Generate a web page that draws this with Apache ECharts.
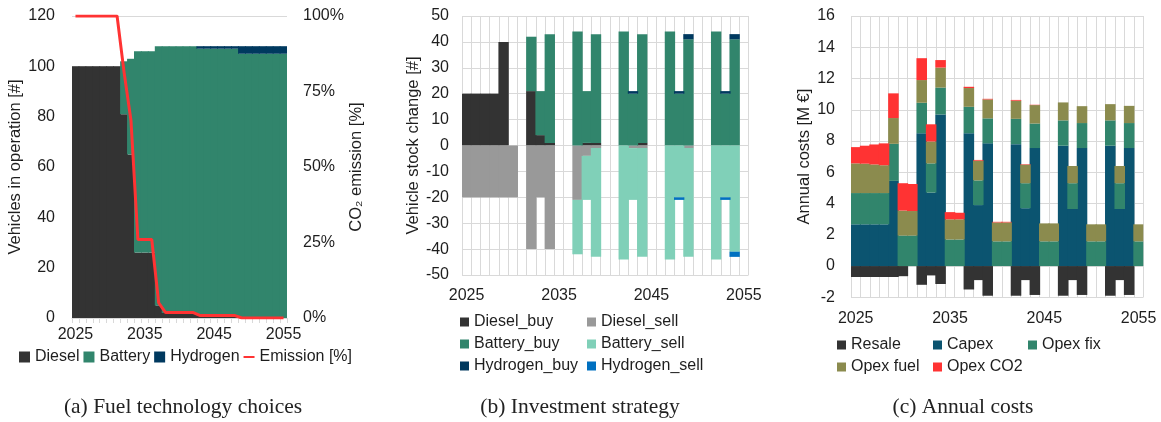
<!DOCTYPE html>
<html>
<head>
<meta charset="utf-8">
<script src="https://cdn.jsdelivr.net/npm/echarts@6/dist/echarts.min.js"></script>
<style>
  html, body { margin: 0; padding: 0; background: #ffffff; }
  #chart { width: 1161px; height: 422px; }
</style>
</head>
<body>
<div id="chart"></div>
<script>
// Planning horizon (one category per year)
const years = ['2025','2026','2027','2028','2029','2030','2031','2032','2033','2034',
               '2035','2036','2037','2038','2039','2040','2041','2042','2043','2044',
               '2045','2046','2047','2048','2049','2050','2051','2052','2053','2054','2055'];

// (a) Vehicles in operation per technology [#] and CO2 emission [%]
const fleetDiesel   = [100,100,100,100,100,100,100,81,65,26,26,26,5,2,2,2,2,2,1,1,1,1,1,1,0,0,0,0,0,0,0];
const fleetBattery  = [0,0,0,0,0,0,0,21,38,80,80,80,103,106,106,106,106,106,106,106,106,106,106,106,105,105,105,105,105,105,105];
const fleetHydrogen = [0,0,0,0,0,0,0,0,0,0,0,0,0,0,0,0,0,0,1,1,1,1,1,1,3,3,3,3,3,3,3];
const emission      = [100,100,100,100,100,100,100,81.5,65.5,26,26,26,5,1.8,1.8,1.8,1.8,1.8,0.8,0.8,0.8,0.8,0.8,0.8,0,0,0,0,0,0,0];

// (b) Vehicle stock change [#]
const dieselBuy    = [20,20,20,20,40,0,0,21,4,1,0,0,0,1,1,0,0,0,0,1,0,0,0,0,0,0,0,0,0,0,0];
const dieselSell   = [-20,-20,-20,-20,-20,-20,0,-40,-20,-40,0,0,-21,-4,-1,0,0,0,-1,-1,0,0,0,0,-1,0,0,0,0,0,0];
const batteryBuy   = [0,0,0,0,0,0,0,21,17,42,0,0,44,20,42,0,0,44,20,42,0,0,44,20,41,0,0,44,20,41,0];
const batterySell  = [0,0,0,0,0,0,0,0,0,0,0,0,-21,-17,-42,0,0,-44,-20,-42,0,0,-44,-20,-42,0,0,-44,-20,-41,0];
const hydrogenBuy  = [0,0,0,0,0,0,0,0,0,0,0,0,0,0,0,0,0,0,1,0,0,0,0,1,2,0,0,0,1,2,0];
const hydrogenSell = [0,0,0,0,0,0,0,0,0,0,0,0,0,0,0,0,0,0,0,0,0,0,0,-1,0,0,0,0,-1,-2,0];

// (c) Annual costs [M €]
const resale   = [-0.7,-0.7,-0.7,-0.7,-0.7,-0.65,0,-1.2,-0.6,-1.15,0,0,-1.5,-0.9,-1.9,0,0,-1.9,-0.9,-1.85,0,0,-1.9,-0.9,-1.85,0,0,-1.9,-0.9,-1.85,0];
const capex    = [2.67,2.67,2.67,2.67,5.45,0,0,8.5,4.7,9.7,0,0,8.5,3.9,7.85,0,0,7.8,3.7,7.55,0,0,7.7,3.65,7.55,0,0,7.7,3.65,7.55,0];
const opexFix  = [2.0,2.0,2.0,2.0,2.37,1.95,1.95,1.95,1.87,1.72,1.7,1.7,1.69,1.58,1.6,1.58,1.58,1.62,1.6,1.57,1.58,1.58,1.62,1.65,1.6,1.58,1.58,1.62,1.65,1.6,1.58];
const opexFuel = [1.9,1.88,1.83,1.78,1.65,1.6,1.57,1.45,1.4,1.28,1.29,1.29,1.2,1.26,1.21,1.21,1.21,1.16,1.19,1.18,1.15,1.15,1.15,1.1,1.08,1.09,1.09,1.04,1.1,1.1,1.09];
const opexCO2  = [1.04,1.15,1.28,1.4,1.58,1.75,1.73,1.4,1.1,0.48,0.46,0.42,0.08,0.05,0.04,0.04,0.04,0.05,0.03,0.02,0,0,0,0,0,0,0,0,0,0,0];

const COLORS = {
  diesel: '#333333', dieselSell: '#999999',
  battery: '#31856C', batterySell: '#80D0B8',
  hydrogen: '#00395F', hydrogenSell: '#0070C0',
  capex: '#0B5470', fuel: '#8B8B4E', co2: '#FF3333'
};

const FONT = "'Liberation Sans', Arial, sans-serif";
const TXT = '#1e1e1e';
const GRID_LINE = '#d9d9d9';

// zero entries are left out so that empty years draw nothing
const clean = arr => arr.map(v => (v === 0 ? null : v));

// bars slightly wider than the year band so neighbouring years join without seams
function barSeries(name, data, color, xi, yi, stack) {
  return {
    name, type: 'bar', xAxisIndex: xi, yAxisIndex: yi, stack,
    data: clean(data), barWidth: '112%',
    itemStyle: { color, borderWidth: 0 },
    emphasis: { disabled: true }
  };
}

function catAxis(gridIndex, extra) {
  return Object.assign({
    gridIndex, type: 'category', data: years, boundaryGap: true,
    axisLine: { show: false },
    axisTick: { show: false },
    axisLabel: { interval: 9, fontSize: 16, fontFamily: FONT, color: TXT, margin: 13 },
    splitLine: { show: true, interval: 0, lineStyle: { color: GRID_LINE, width: 1 } }
  }, extra);
}

function valAxis(gridIndex, min, max, interval, name, nameGap, margin, extra) {
  return Object.assign({
    gridIndex, type: 'value', min, max, interval,
    name, nameLocation: 'middle', nameGap, nameRotate: 90,
    nameTextStyle: { fontSize: 16.5, fontFamily: FONT, color: TXT },
    axisLine: { show: false }, axisTick: { show: false },
    axisLabel: { fontSize: 16, fontFamily: FONT, color: TXT, margin },
    splitLine: { show: true, lineStyle: { color: GRID_LINE, width: 1 } }
  }, extra);
}

const legendText = { fontSize: 16, fontFamily: FONT, color: TXT, lineHeight: 16 };
function legend(names, left, top, orient, itemGap) {
  return {
    data: names, left, top, orient, itemGap, padding: 0,
    icon: 'rect', itemWidth: 9, itemHeight: 9, itemStyle: { borderWidth: 0 },
    textStyle: legendText, selectedMode: false
  };
}

const option = {
  animation: false,
  backgroundColor: '#ffffff',
  grid: [
    { left: 72,  top: 16, width: 215,   height: 302 },
    { left: 462, top: 16, width: 286.5, height: 259 },
    { left: 851, top: 16, width: 292.3, height: 281.3 }
  ],
  xAxis: [
    catAxis(0, {
      axisLine: { show: true, lineStyle: { color: GRID_LINE } },
      axisTick: { show: true, interval: 0, length: 5, lineStyle: { color: GRID_LINE } },
      axisLabel: { interval: 9, fontSize: 16, fontFamily: FONT, color: TXT, margin: 9 },
      splitLine: { show: false }
    }),
    catAxis(1),
    catAxis(2, { axisLabel: { interval: 9, fontSize: 16, fontFamily: FONT, color: TXT, margin: 13 } })
  ],
  yAxis: [
    valAxis(0, 0, 120, 20, 'Vehicles in operation [#]', 44, 17),
    valAxis(0, 0, 100, 25, 'CO₂ emission [%]', 61, 16, {
      position: 'right',
      axisLabel: { fontSize: 16, fontFamily: FONT, color: TXT, margin: 16, formatter: '{value}%' },
      splitLine: { show: false }
    }),
    valAxis(1, -50, 50, 10, 'Vehicle stock change [#]', 39, 13),
    valAxis(2, -2, 16, 2, 'Annual costs [M €]', 35, 16)
  ],
  legend: [
    {
      data: [
        { name: 'Diesel', icon: 'rect' },
        { name: 'Battery', icon: 'rect' },
        { name: 'Hydrogen', icon: 'rect' },
        { name: 'Emission [%]', icon: 'path://M0,0H16V3H0Z' }
      ],
      left: 19, top: 349, orient: 'horizontal', itemGap: 4, padding: 0,
      itemWidth: 11, itemHeight: 11, textStyle: legendText, selectedMode: false
    },
    legend(['Diesel_buy', 'Battery_buy', 'Hydrogen_buy'], 460, 314, 'vertical', 6),
    legend(['Diesel_sell', 'Battery_sell', 'Hydrogen_sell'], 587, 314, 'vertical', 6),
    legend(['Resale', 'Opex fuel'], 837, 337, 'vertical', 6),
    legend(['Capex', 'Opex CO2'], 933, 337, 'vertical', 6),
    legend(['Opex fix'], 1028, 337, 'vertical', 6)
  ],
  series: [
    // (a) fleet composition
    barSeries('Diesel', fleetDiesel, COLORS.diesel, 0, 0, 'fleet'),
    barSeries('Battery', fleetBattery, COLORS.battery, 0, 0, 'fleet'),
    barSeries('Hydrogen', fleetHydrogen, COLORS.hydrogen, 0, 0, 'fleet'),
    {
      name: 'Emission [%]', type: 'line', xAxisIndex: 0, yAxisIndex: 1,
      data: emission, symbol: 'none', z: 5,
      lineStyle: { color: COLORS.co2, width: 3 }, itemStyle: { color: COLORS.co2 },
      emphasis: { disabled: true }
    },
    // (b) investment strategy
    barSeries('Diesel_buy', dieselBuy, COLORS.diesel, 1, 2, 'stock'),
    barSeries('Diesel_sell', dieselSell, COLORS.dieselSell, 1, 2, 'stock'),
    barSeries('Battery_buy', batteryBuy, COLORS.battery, 1, 2, 'stock'),
    barSeries('Battery_sell', batterySell, COLORS.batterySell, 1, 2, 'stock'),
    barSeries('Hydrogen_buy', hydrogenBuy, COLORS.hydrogen, 1, 2, 'stock'),
    barSeries('Hydrogen_sell', hydrogenSell, COLORS.hydrogenSell, 1, 2, 'stock'),
    // (c) annual costs
    barSeries('Resale', resale, COLORS.diesel, 2, 3, 'cost'),
    barSeries('Capex', capex, COLORS.capex, 2, 3, 'cost'),
    barSeries('Opex fix', opexFix, COLORS.battery, 2, 3, 'cost'),
    barSeries('Opex fuel', opexFuel, COLORS.fuel, 2, 3, 'cost'),
    barSeries('Opex CO2', opexCO2, COLORS.co2, 2, 3, 'cost')
  ],
  graphic: [
    ['(a) Fuel technology choices', 183],
    ['(b) Investment strategy', 580],
    ['(c) Annual costs', 963]
  ].map(([text, x]) => ({
    type: 'text', x, y: 407,
    style: {
      text, fill: '#222222', align: 'center', verticalAlign: 'middle',
      font: "21.5px 'Liberation Serif', 'DejaVu Serif', serif"
    }
  }))
};

const chart = echarts.init(document.getElementById('chart'), null, { renderer: 'canvas' });
chart.setOption(option);
</script>
</body>
</html>
